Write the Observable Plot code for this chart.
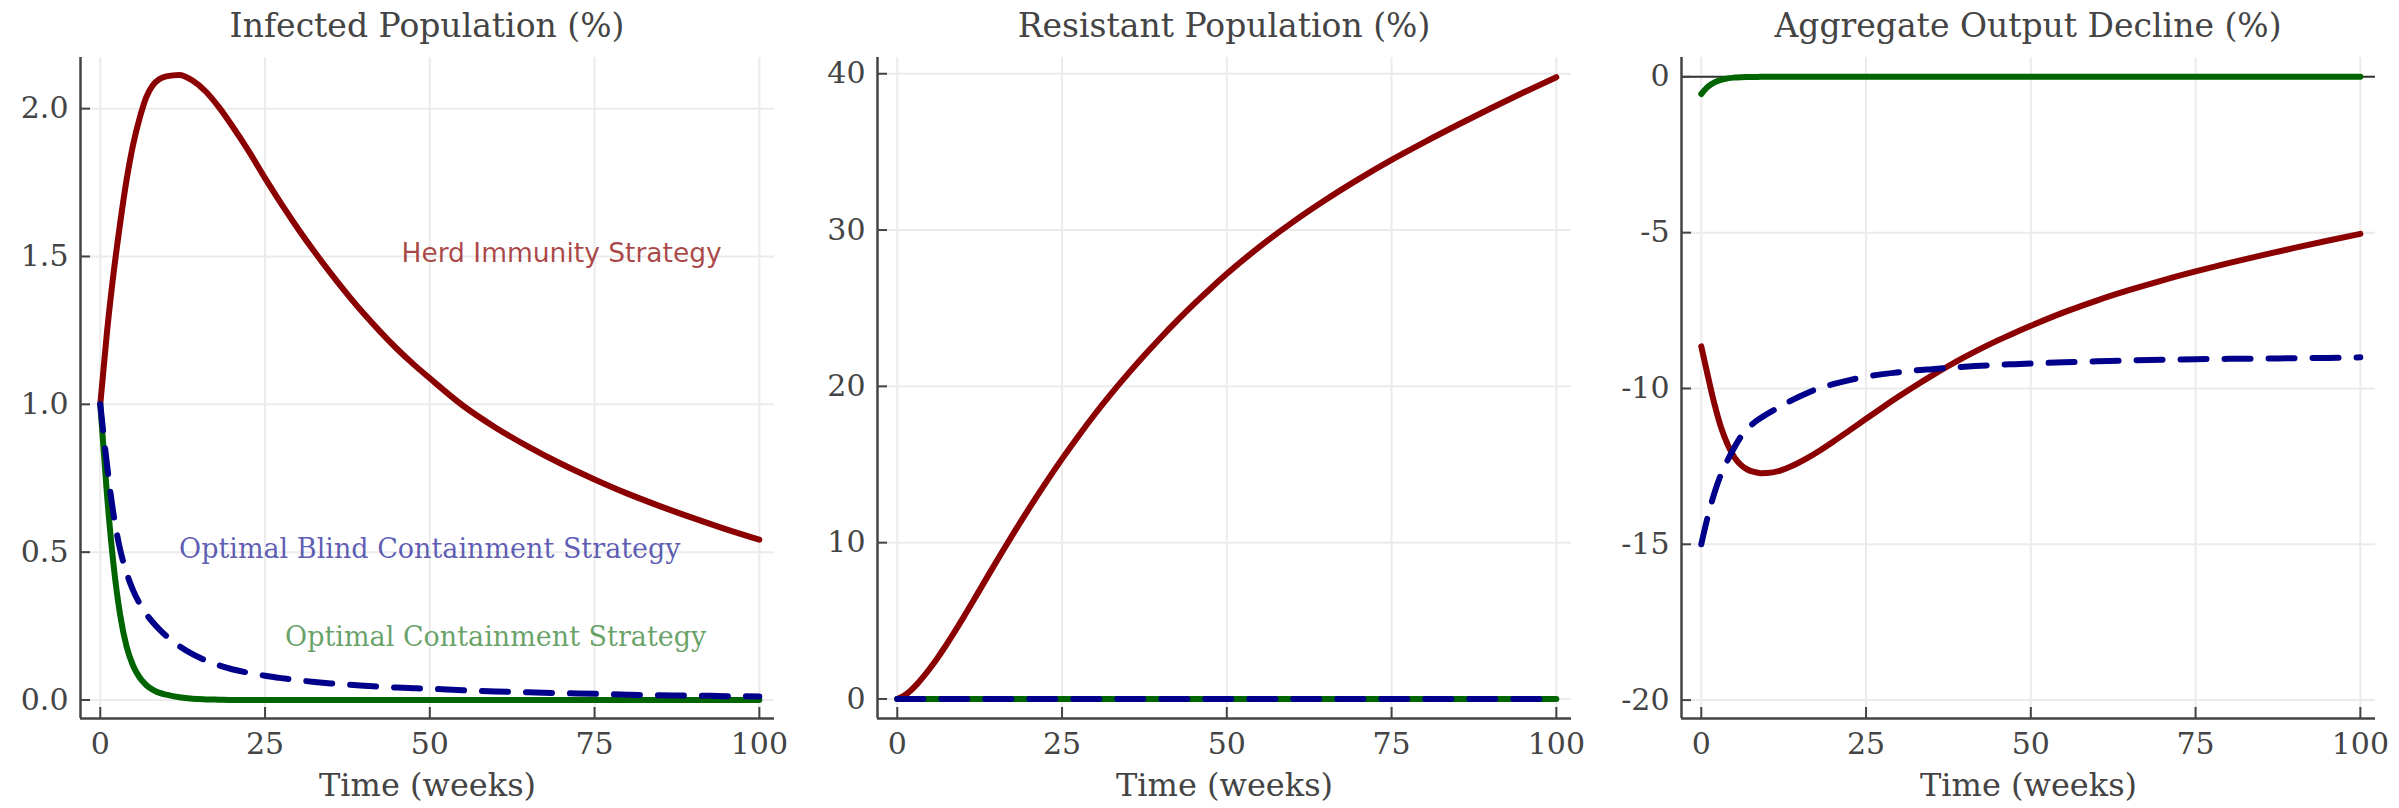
<!DOCTYPE html>
<html><head><meta charset="utf-8">
<script src="https://cdn.jsdelivr.net/npm/d3@7"></script>
<script src="https://cdn.jsdelivr.net/npm/@observablehq/plot@0.6"></script>
<style>
body{margin:0;background:#fff;}
#wrap{position:relative;width:2399px;height:808px;overflow:hidden;background:#fff;}
.panel{position:absolute;top:0;}
.title{position:absolute;top:0;height:52px;line-height:52px;font-family:"DejaVu Serif";font-size:33px;color:#444;text-align:center;white-space:nowrap;}
.plotbox{position:absolute;top:52px;left:0;}
</style></head><body><div id="wrap"></div>
<script>
// ---- data ----
const weeks = [0,1,2,3,4,5,6,7,8,9,10,12,14,16,18,20,22.5,25,27.5,30,32.5,35,37.5,40,42.5,45,47.5,50,55,60,65,70,75,80,85,90,95,100];

const infectedHerd = [1.00,1.24,1.44,1.61,1.76,1.88,1.97,2.04,2.08,2.10,2.109,2.114,2.095,2.058,2.005,1.942,1.857,1.765,1.677,1.594,1.516,1.442,1.372,1.306,1.245,1.188,1.136,1.088,0.996,0.921,0.856,0.798,0.746,0.698,0.655,0.615,0.577,0.542];
const infectedBlind = [1.00,0.80,0.63,0.51,0.43,0.37,0.325,0.29,0.262,0.238,0.217,0.182,0.155,0.134,0.117,0.104,0.092,0.082,0.074,0.067,0.061,0.056,0.052,0.048,0.045,0.042,0.040,0.038,0.033,0.029,0.026,0.023,0.021,0.018,0.016,0.015,0.013,0.012];
const infectedOptimal = [1.00,0.70,0.46,0.29,0.18,0.115,0.075,0.05,0.034,0.024,0.018,0.009,0.004,0.002,0.001,0,0,0,0,0,0,0,0,0,0,0,0,0,0,0,0,0,0,0,0,0,0,0];

const resistantHerd = [0,0.2,0.53,0.95,1.44,1.98,2.56,3.18,3.83,4.5,5.19,6.61,8.05,9.47,10.85,12.19,13.81,15.36,16.83,18.23,19.55,20.8,21.99,23.13,24.22,25.26,26.25,27.2,28.94,30.51,31.94,33.26,34.49,35.63,36.72,37.78,38.8,39.78];
const resistantBlind = weeks.map(() => 0);
const resistantOptimal = weeks.map(() => 0);

const outputHerd = [-8.65,-9.6,-10.5,-11.25,-11.8,-12.2,-12.45,-12.6,-12.68,-12.72,-12.715,-12.635,-12.465,-12.245,-11.99,-11.71,-11.344,-10.974,-10.608,-10.252,-9.911,-9.587,-9.279,-8.988,-8.714,-8.457,-8.218,-7.99,-7.56,-7.18,-6.84,-6.53,-6.245,-5.98,-5.73,-5.49,-5.26,-5.04];
const outputBlind = [-15.0,-14.1,-13.35,-12.75,-12.3,-11.9,-11.55,-11.3,-11.1,-10.95,-10.82,-10.58,-10.35,-10.15,-9.98,-9.86,-9.73,-9.62,-9.54,-9.48,-9.42,-9.38,-9.34,-9.3,-9.27,-9.24,-9.22,-9.2,-9.16,-9.13,-9.1,-9.08,-9.06,-9.05,-9.04,-9.03,-9.02,-9.0];
const outputOptimal = [-0.55,-0.32,-0.18,-0.1,-0.05,-0.025,-0.012,-0.006,-0.003,-0.001,0,0,0,0,0,0,0,0,0,0,0,0,0,0,0,0,0,0,0,0,0,0,0,0,0,0,0,0];

const panelTitles = ["Infected Population (%)", "Resistant Population (%)", "Aggregate Output Decline (%)"];
const xTicks = [0,25,50,75,100];
const yTicksInfected = [0,0.5,1.0,1.5,2.0];
const yTicksResistant = [0,10,20,30,40];
const yTicksOutput = [0,-5,-10,-15,-20];
const xLabel = "Time (weeks)";

const annotationLabels = ["Herd Immunity Strategy", "Optimal Blind Containment Strategy", "Optimal Containment Strategy"];
const annotationX = [70, 50, 60];
const annotationY = [1.5, 0.5, 0.2];

// ---- styling / layout ----
const RED = "#8b0000", BLUE = "#00008b", GREEN = "#006400";
const INK = "#444";
const xDomain = [-3, 102.3];
const H = 756, MT = 5, MB = 90;

const panels = [
  {left: 0, width: 800, ml: 80, mr: 26, title: panelTitles[0], yDomain: [-0.0626, 2.173], yTicks: yTicksInfected, fmt: d => d.toFixed(1),
   series: [{v: infectedHerd, c: RED}, {v: infectedOptimal, c: GREEN}, {v: infectedBlind, c: BLUE, dash: true}], annot: true},
  {left: 800, width: 800, ml: 77, mr: 29, title: panelTitles[1], yDomain: [-1.25, 41.04], yTicks: yTicksResistant, fmt: d => String(d),
   series: [{v: resistantHerd, c: RED}, {v: resistantOptimal, c: GREEN}, {v: resistantBlind, c: BLUE, dash: true}]},
  {left: 1600, width: 799, ml: 81, mr: 24, title: panelTitles[2], yDomain: [-20.59, 0.62], yTicks: yTicksOutput, fmt: d => String(d),
   series: [{v: outputHerd, c: RED}, {v: outputBlind, c: BLUE, dash: true}, {v: outputOptimal, c: GREEN}], zero: true}
];

const wrap = document.getElementById("wrap");
for (const p of panels) {
  const frameW = p.width - p.ml - p.mr;
  const frameH = H - MT - MB;
  const marks = [
    Plot.gridX(xTicks, {stroke: "#ebebeb", strokeOpacity: 1, strokeWidth: 2}),
    Plot.gridY(p.yTicks, {stroke: "#ebebeb", strokeOpacity: 1, strokeWidth: 2})
  ];
  if (p.zero) marks.push(Plot.ruleY([0], {stroke: "#333", strokeWidth: 2}));
  for (const s of p.series) {
    const rows = weeks.map((w, i) => ({week: w, value: s.v[i]}));
    marks.push(Plot.line(rows, {x: "week", y: "value", stroke: s.c, strokeWidth: 6,
      strokeDasharray: s.dash ? "26,18" : null, curve: "monotone-x"}));
  }
  if (p.annot) {
    const rows = annotationLabels.map((t, i) => ({t, x: annotationX[i], y: annotationY[i]}));
    marks.push(Plot.text([rows[0]], {x: "x", y: "y", text: "t", fill: RED, fillOpacity: 0.72, fontFamily: "DejaVu Sans", fontSize: 26.5, lineAnchor: "middle", dy: -3}));
    marks.push(Plot.text([rows[1]], {x: "x", y: "y", text: "t", fill: BLUE, fillOpacity: 0.65, fontFamily: "DejaVu Serif", fontSize: 27, lineAnchor: "middle", dy: -3}));
    marks.push(Plot.text([rows[2]], {x: "x", y: "y", text: "t", fill: GREEN, fillOpacity: 0.6, fontFamily: "DejaVu Serif", fontSize: 27, lineAnchor: "middle", dy: -3}));
  }
  // spines
  marks.push(Plot.ruleX([xDomain[0]], {stroke: INK, strokeWidth: 2.5}));
  marks.push(Plot.ruleY([p.yDomain[0]], {stroke: INK, strokeWidth: 2.5}));
  // inward ticks
  marks.push(Plot.tickY(p.yTicks, {y: d => d, stroke: INK, strokeWidth: 2, insetRight: frameW - 10}));
  marks.push(Plot.tickX(xTicks, {x: d => d, stroke: INK, strokeWidth: 2, insetTop: frameH - 11}));
  // tick labels
  marks.push(Plot.axisX(xTicks, {tickSize: 0, tickPadding: 14, tickFormat: d => String(d), label: null}));
  marks.push(Plot.axisY(p.yTicks, {tickSize: 0, tickPadding: 12, tickFormat: p.fmt, label: null}));
  marks.push(Plot.text([xLabel], {text: d => d, frameAnchor: "bottom", dy: 67, lineAnchor: "middle", fill: INK, fontSize: 32}));

  const chart = Plot.plot({
    width: p.width, height: H,
    marginLeft: p.ml, marginRight: p.mr, marginTop: MT, marginBottom: MB,
    x: {domain: xDomain, label: null},
    y: {domain: p.yDomain, label: null},
    style: {fontFamily: "DejaVu Serif", fontSize: "30px", color: INK, background: "transparent", overflow: "visible"},
    marks
  });
  const panel = document.createElement("div");
  panel.className = "panel";
  panel.style.left = p.left + "px";
  panel.style.width = p.width + "px";
  panel.style.height = "808px";
  const title = document.createElement("div");
  title.className = "title";
  title.style.left = p.ml + "px";
  title.style.width = frameW + "px";
  title.textContent = p.title;
  const box = document.createElement("div");
  box.className = "plotbox";
  box.appendChild(chart);
  panel.appendChild(title);
  panel.appendChild(box);
  wrap.appendChild(panel);
}
</script></body></html>
